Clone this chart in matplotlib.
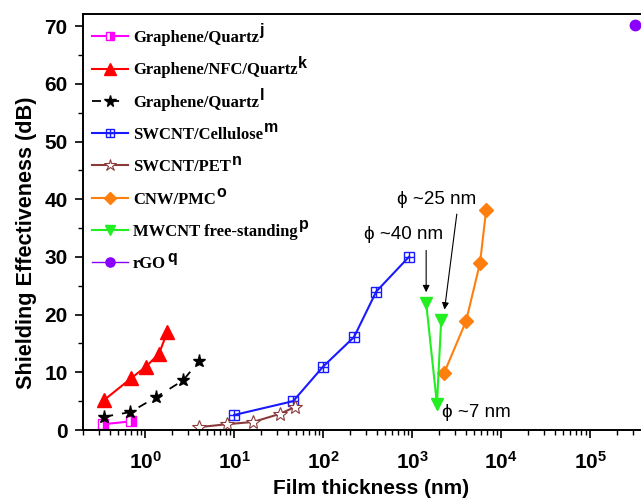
import math
import matplotlib
matplotlib.use("Agg")
import matplotlib.pyplot as plt
from matplotlib.ticker import FixedLocator, LogLocator, FuncFormatter, MultipleLocator, NullFormatter
from matplotlib.legend_handler import HandlerTuple

plt.rcParams['mathtext.fontset'] = 'custom'
plt.rcParams['mathtext.rm'] = 'Liberation Sans:bold'
plt.rcParams['mathtext.bf'] = 'Liberation Sans:bold'
plt.rcParams['mathtext.it'] = 'Liberation Sans:bold:italic'

# ---- data ----
gq_j_x = [0.337, 0.70]
gq_j_y = [1.0, 1.5]

gnq_x = [0.346, 0.70, 1.02, 1.43, 1.77]
gnq_y = [5.2, 9.0, 11.0, 13.2, 17.0]

gq_l_x = [0.346, 0.68, 1.33, 2.67, 4.04]
gq_l_y = [2.3, 3.1, 5.7, 8.6, 12.0]

swc_cel_x = [10.0, 46.0, 100.0, 222.0, 395.0, 920.0]
swc_cel_y = [2.6, 5.0, 11.0, 16.1, 24.0, 30.0]

swc_pet_x = [4.04, 8.3, 16.4, 32.7, 48.4]
swc_pet_y = [0.5, 1.0, 1.4, 2.8, 4.0]

cnw_x = [2290, 4040, 5800, 6780]
cnw_y = [9.9, 18.9, 29.0, 38.1]

mw_x = [1437, 1900, 2120]
mw_y = [22.0, 4.5, 19.0]

rgo_x = [3.2e5]
rgo_y = [70.2]

labels = ["Graphene/Quartz", "Graphene/NFC/Quartz", "Graphene/Quartz",
          "SWCNT/Cellulose", "SWCNT/PET", "CNW/PMC",
          "MWCNT free-standing", "rGO"]
sups = ["j", "k", "l", "m", "n", "o", "p", "q"]

ann_texts = ["ϕ ~40 nm", "ϕ ~25 nm", "ϕ ~7 nm"]
xticks = [1, 10, 100, 1000, 10000, 100000]

W, H = 641, 499
fig = plt.figure(figsize=(W / 100, H / 100), dpi=100)
ax = fig.add_axes([83 / W, 69 / H, (660 - 83) / W, 416 / H])
ax.set_xscale('log')
ax.set_xlim(0.2, 6.1e5)
ax.set_ylim(0, 72.1)

h1, = ax.plot(gq_j_x, gq_j_y, '-', color='#ff00ff', marker='s', ms=7,
              fillstyle='right', mfc='#ff00ff', mfcalt='white', mec='#ff00ff', lw=1.5)
h2, = ax.plot(gnq_x, gnq_y, '-', color='#ff0000', marker='^', ms=9.5, lw=1.5)
h3, = ax.plot(gq_l_x, gq_l_y, '--', color='black', marker='*', ms=9.5, lw=1.3,
              dashes=(5, 5))
h4a, = ax.plot(swc_cel_x, swc_cel_y, '-', color='#1a1aff', marker='s', ms=7,
               mfc='none', mec='#1a1aff', lw=1.5)
h4b, = ax.plot(swc_cel_x, swc_cel_y, ls='none', marker='+', ms=7, mec='#1a1aff', mew=1.0)
h5, = ax.plot(swc_pet_x, swc_pet_y, '-', color='#8b3a3a', marker='*', ms=10.5,
              mfc='white', mec='#8b3a3a', mew=0.8, lw=1.5)
h6, = ax.plot(cnw_x, cnw_y, '-', color='#ff7f0e', marker='D', ms=7.5, lw=1.5)
h7, = ax.plot(mw_x, mw_y, '-', color='#22ee22', marker='v', ms=8.5, lw=1.5)
h8, = ax.plot(rgo_x, rgo_y, '-', color='#8a00ff', marker='o', ms=7.5, lw=1.0)

# annotations
ax.annotate('', xy=(1437, 23.4), xytext=(1437, 31.6),
            arrowprops=dict(arrowstyle='-|>', color='black', lw=0.8, mutation_scale=10))
ax.annotate('', xy=(2290, 20.4), xytext=(3205, 37.9),
            arrowprops=dict(arrowstyle='-|>', color='black', lw=0.8, mutation_scale=10))
fam = ['Liberation Sans', 'DejaVu Sans']
ax.text(2230, 33.8, ann_texts[0], ha='right', va='center', fontsize=13.5, family=fam)
ax.text(5240, 40.0, ann_texts[1], ha='right', va='center', fontsize=13.5, family=fam)
ax.text(2150, 3.1, ann_texts[2], ha='left', va='center', fontsize=13.5, family=fam)

# ticks
ax.xaxis.set_major_locator(FixedLocator(xticks))
ax.xaxis.set_minor_locator(LogLocator(base=10, subs=range(2, 10), numticks=20))
ax.xaxis.set_minor_formatter(NullFormatter())
ax.xaxis.set_major_formatter(FuncFormatter(lambda v, p: r'$\mathbf{10^{%d}}$' % round(math.log10(v))))
ax.yaxis.set_major_locator(MultipleLocator(10))
ax.yaxis.set_minor_locator(MultipleLocator(5))
ax.tick_params(which='major', direction='out', length=6, width=1.2, labelsize=15, pad=5)
ax.tick_params(axis='x', which='major', pad=9)
ax.tick_params(which='minor', direction='out', length=3.5, width=1.0)
ax.tick_params(top=False, right=False, which='both')
for lab in ax.get_yticklabels():
    lab.set_fontweight('bold')
    lab.set_family('Liberation Sans')
for s in ax.spines.values():
    s.set_linewidth(1.4)

ax.set_xlabel('Film thickness (nm)', fontsize=15, fontweight='bold',
              family='Liberation Sans', labelpad=4.5)
ax.set_ylabel('Shielding Effectiveness (dB)', fontsize=15.6, fontweight='bold',
              family='Liberation Sans')
ax.yaxis.set_label_coords(-46 / 577, 0.45)

handles = [h1, h2, h3, (h4a, h4b), h5, h6, h7, h8]
leg = ax.legend(handles, labels, loc='upper left',
                bbox_to_anchor=(92 / W, (H - 30) / H), bbox_transform=fig.transFigure,
                frameon=False, borderaxespad=0, borderpad=0, markerscale=0.88,
                handlelength=2.15, handletextpad=0.3, labelspacing=0.98,
                prop={'family': 'Liberation Serif', 'weight': 'bold', 'size': 12},
                handler_map={tuple: HandlerTuple(ndivide=1)})

fig.canvas.draw()
r = fig.canvas.get_renderer()
for t, s in zip(leg.get_texts(), sups):
    bb = t.get_window_extent(r)
    fig.text((bb.x1 + 1) / W, (bb.y0 + 10.5) / H, s, fontsize=11.5, fontweight='bold',
             family='Liberation Sans', ha='left', va='baseline')

fig.savefig('out.png', dpi=100)
